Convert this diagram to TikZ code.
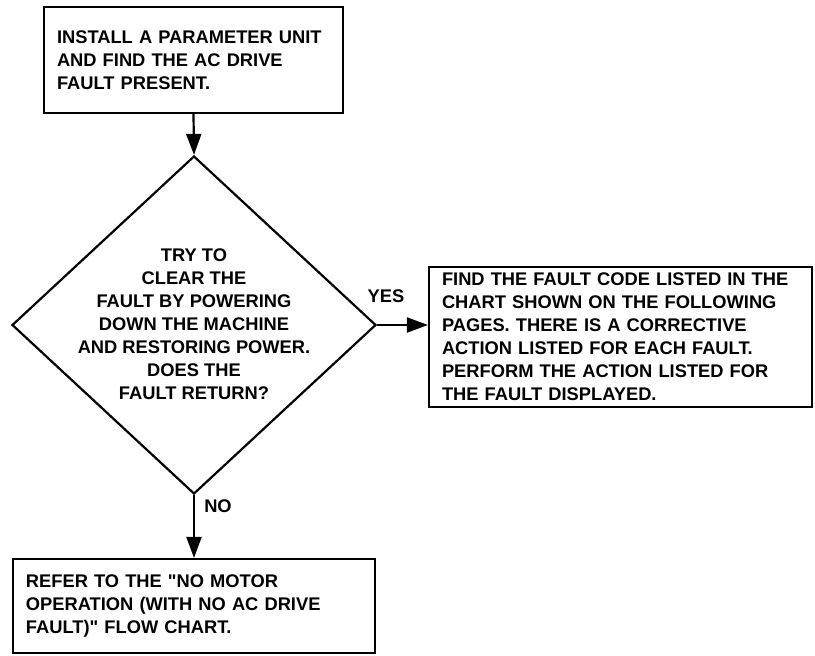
\documentclass[tikz,border=0pt]{standalone}
\usepackage{fontspec}
\setmainfont{Liberation Sans}[Ligatures=TeXOff]
\usetikzlibrary{shapes.geometric,arrows.meta}
\begin{document}
\begin{tikzpicture}[x=1pt,y=-1pt,
  every node/.style={font=\bfseries\fontsize{18.3}{23}\selectfont},
  box/.style={draw,line width=2.2pt,rectangle,align=left,inner xsep=13pt,inner ysep=0pt},
  dia/.style={draw,line width=2.2pt,diamond,inner sep=0pt},
  conn/.style={line width=2.2pt,-{Triangle[length=21pt,width=15pt]}},
  lbl/.style={inner sep=0pt}]
\useasboundingbox (0,0) rectangle (815,656);
\node[box,minimum width=299pt,minimum height=106pt,text width=273pt] (install) at (193.5,60)
  {INSTALL A PARAMETER UNIT\\AND FIND THE AC DRIVE\\FAULT PRESENT.};
\node[dia,minimum width=364pt,minimum height=338pt] (try) at (194,325) {};
\node[lbl,align=center] (trytext) at (194,324)
  {TRY TO\\CLEAR THE\\FAULT BY POWERING\\DOWN THE MACHINE\\AND RESTORING POWER.\\DOES THE\\FAULT RETURN?};
\node[box,minimum width=383pt,minimum height=140pt,text width=357pt] (find) at (620.5,337)
  {FIND THE FAULT CODE LISTED IN THE\\CHART SHOWN ON THE FOLLOWING\\PAGES. THERE IS A CORRECTIVE\\ACTION LISTED FOR EACH FAULT.\\PERFORM THE ACTION LISTED FOR\\THE FAULT DISPLAYED.};
\node[box,minimum width=362pt,minimum height=94pt,text width=336pt,inner xsep=12pt] (refer) at (194,606)
  {REFER TO THE "NO MOTOR\\OPERATION (WITH NO AC DRIVE\\FAULT)" FLOW CHART.};
\draw[conn] (install.south) -- (try.north);
\draw[conn] (try.east) -- (find.west|-try.east);
\draw[conn] (try.south) -- (refer.north);
\node[lbl] (yes) at (386,296) {YES};
\node[lbl] (no) at (218,506) {NO};
\end{tikzpicture}
\end{document}
